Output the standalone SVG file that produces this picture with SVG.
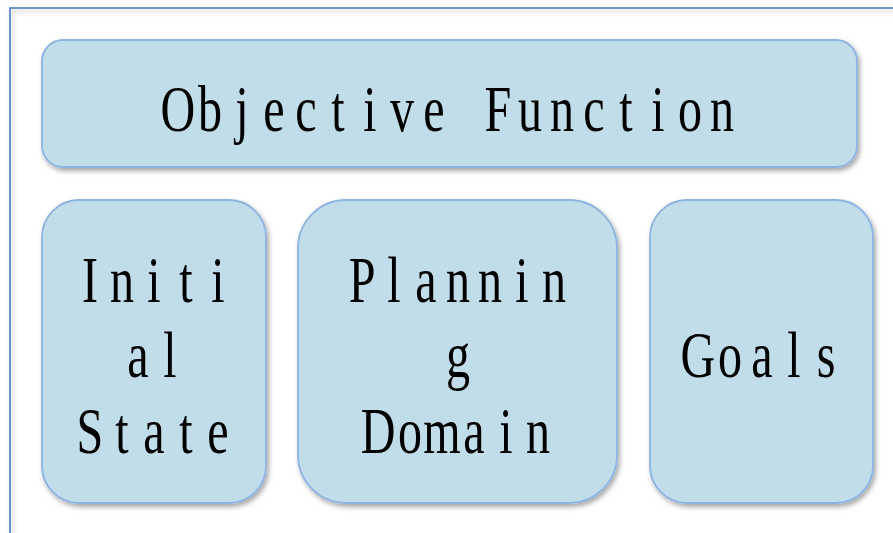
<svg xmlns="http://www.w3.org/2000/svg" width="893" height="533" viewBox="0 0 893 533">
  <defs>
    <filter id="shadow" x="-10%" y="-10%" width="120%" height="130%">
      <feDropShadow dx="2" dy="3" stdDeviation="2.5" flood-color="#000" flood-opacity="0.35"/>
    </filter>
    <filter id="frameShadow" x="-5%" y="-5%" width="110%" height="110%">
      <feDropShadow dx="2" dy="3" stdDeviation="2.5" flood-color="#000" flood-opacity="0.25"/>
    </filter>
    <style>
      .box { fill: #c0dde9; stroke: #8db3e2; stroke-width: 1.8; filter: url(#shadow); }
      .label { font-family: "Liberation Serif", "Times New Roman", serif; font-size: 65px; fill: #000; text-anchor: middle; }
    </style>
  </defs>

  <rect width="893" height="533" fill="#ffffff"/>

  <!-- outer frame -->
  <rect x="10" y="8" width="900" height="540" fill="none" stroke="#4a7ebb" stroke-width="1.6" filter="url(#frameShadow)"/>

  <!-- condensed serif labels: each glyph centred in a 32px cell (x values are in the 0.74-scaled space) -->
  <g id="objective-function">
    <rect class="box" x="42" y="40" width="815" height="127" rx="21" ry="21"/>
    <text class="label" transform="scale(0.74,1)" y="131" x="240.54 283.78 327.03 370.27 413.51 456.76 500 543.24 586.49 629.73 672.97 716.22 759.46 802.7 845.95 889.19 932.43 975.68">Objective Function</text>
  </g>

  <g id="initial-state">
    <rect class="box" x="42" y="200" width="224" height="303" rx="37" ry="37"/>
    <text class="label" transform="scale(0.74,1)" y="302" x="121.62 164.86 208.11 251.35 294.59">Initi</text>
    <text class="label" transform="scale(0.74,1)" y="377" x="186.49 229.73">al</text>
    <text class="label" transform="scale(0.74,1)" y="453" x="121.62 164.86 208.11 251.35 294.59">State</text>
  </g>

  <g id="planning-domain">
    <rect class="box" x="298" y="200" width="319" height="303" rx="48" ry="48"/>
    <text class="label" transform="scale(0.74,1)" y="302" x="489.19 532.43 575.68 618.92 662.16 705.41 748.65">Plannin</text>
    <text class="label" transform="scale(0.74,1)" y="377" x="618.92">g</text>
    <text class="label" transform="scale(0.74,1)" y="453" x="510.81 554.05 597.3 640.54 683.78 727.03">Domain</text>
  </g>

  <g id="goals">
    <rect class="box" x="650" y="200" width="223" height="303" rx="37" ry="37"/>
    <text class="label" transform="scale(0.74,1)" y="377" x="943.24 986.49 1029.73 1072.97 1116.22">Goals</text>
  </g>

  <g id="connectors"></g>
</svg>
